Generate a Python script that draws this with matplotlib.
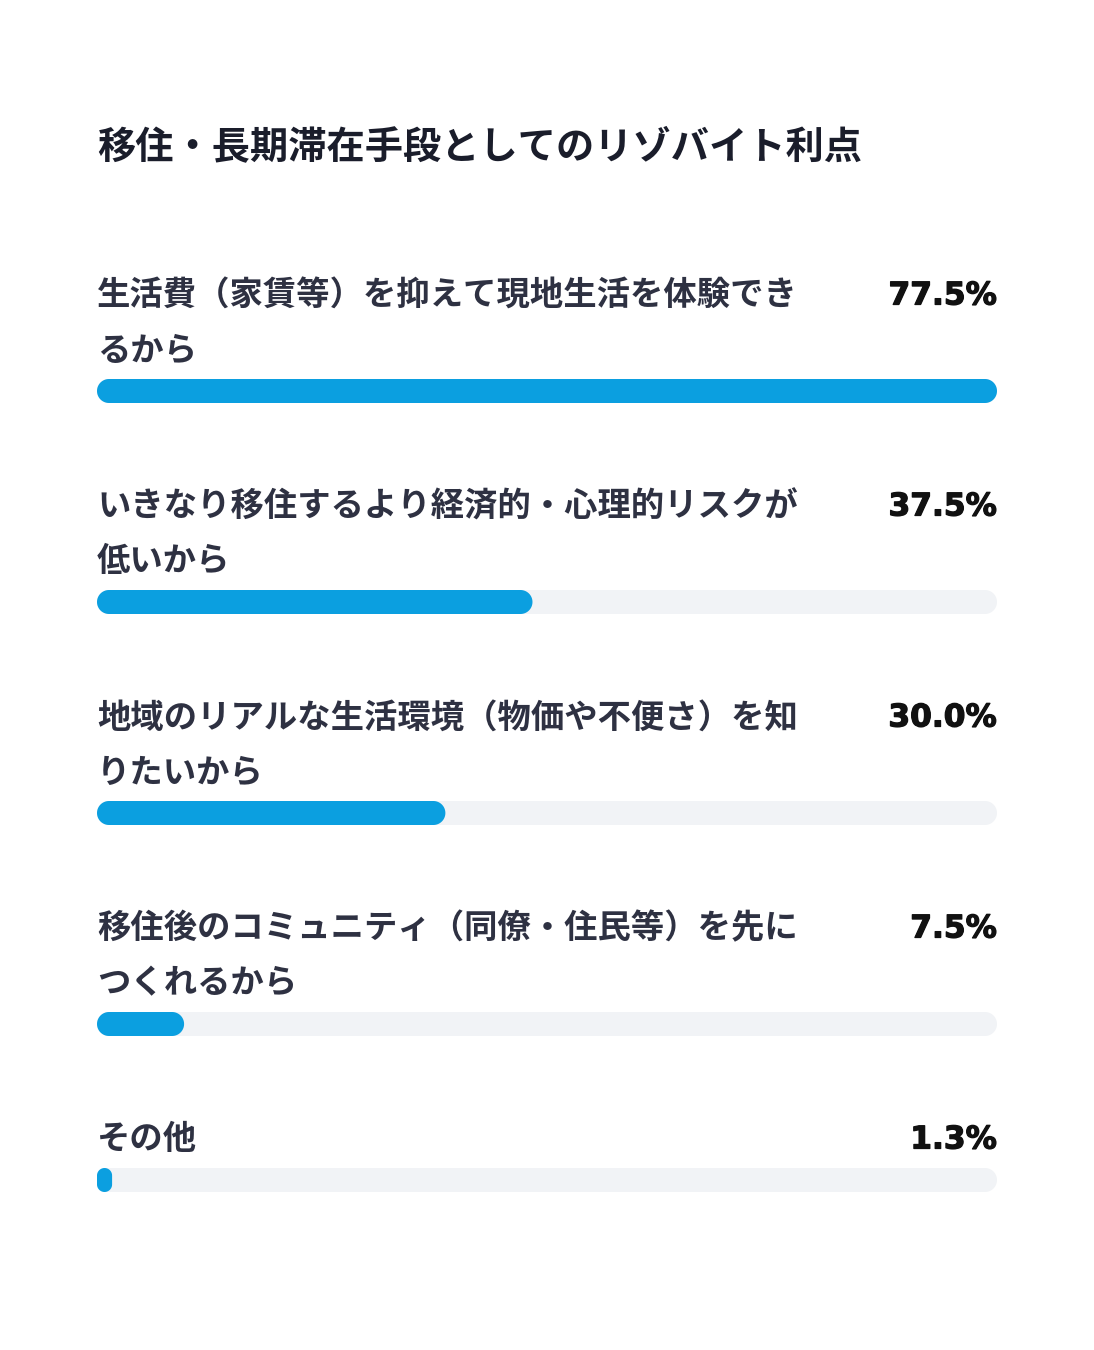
import matplotlib
matplotlib.use("Agg")
import numpy as np
import matplotlib.pyplot as plt
from matplotlib.patches import Polygon
import matplotlib.patheffects as pe

# chart data
title = "移住・長期滞在手段としてのリゾバイト利点"
labels = [
    "生活費（家賃等）を抑えて現地生活を体験できるから",
    "いきなり移住するより経済的・心理的リスクが低いから",
    "地域のリアルな生活環境（物価や不便さ）を知りたいから",
    "移住後のコミュニティ（同僚・住民等）を先につくれるから",
    "その他",
]
values = [77.5, 37.5, 30.0, 7.5, 1.3]

W, H = 1094, 1350
BAR_COLOR = "#0b9fe0"
TRACK_COLOR = "#f1f3f6"
LABEL_COLOR = "#2e3142"
VALUE_COLOR = "#111111"

plt.rcParams["font.family"] = ["Noto Sans CJK JP", "DejaVu Sans"]


def wrap(text, n=21):
    return [text[i:i + n] for i in range(0, len(text), n)]


def capsule(x0, x1, yc, h, color):
    # rounded bar outline in pixel coords (y grows downward)
    w = x1 - x0
    r = min(h / 2, w / 2)
    t = np.linspace(0, np.pi / 2, 16)
    pts = []
    for cx, cy, a0 in [(x1 - r, yc + h / 2 - r, 0.0),
                       (x0 + r, yc + h / 2 - r, 0.5 * np.pi),
                       (x0 + r, yc - h / 2 + r, np.pi),
                       (x1 - r, yc - h / 2 + r, 1.5 * np.pi)]:
        a = a0 + t
        pts.extend(zip(cx + r * np.cos(a), cy + r * np.sin(a)))
    return Polygon(pts, closed=True, fc=color, ec="none")


def main():
    fig = plt.figure(figsize=(W / 100, H / 100), dpi=100)
    fig.patch.set_facecolor("white")

    # drawing layer in pixel coords
    tx = fig.add_axes([0, 0, 1, 1])
    tx.set_xlim(0, W)
    tx.set_ylim(H, 0)
    tx.axis("off")

    # value scale: x in percent units across the track
    left, right = 97, 997
    vmax = max(values)
    bx = fig.add_axes([left / W, 0, (right - left) / W, 1])
    bx.set_xlim(0, vmax)
    bx.set_ylim(H, 0)
    bx.axis("off")
    to_px = bx.transData + tx.transData.inverted()

    bar_h = 24

    tx.text(left, 147, title, fontsize=27.5, fontweight="bold",
            color="#1a1d2b", va="center", ha="left")

    row_top = 296
    row_step = 211
    line_step = 55
    for i, (lab, v) in enumerate(zip(labels, values)):
        y0 = row_top + row_step * i
        lines = wrap(lab)
        for k, ln in enumerate(lines):
            tx.text(left, y0 + k * line_step, ln, fontsize=24, fontweight="bold",
                    color=LABEL_COLOR, va="center", ha="left")
        tx.text(right, y0, f"{v:.1f}%", fontsize=22.5, fontweight="bold",
                family="DejaVu Sans", color=VALUE_COLOR, va="center", ha="right",
                path_effects=[pe.withStroke(linewidth=0.9, foreground=VALUE_COLOR)])

        yb = y0 - 3 + line_step * (len(lines) - 1) + 43
        (x0, _), (xt, _), (xv, _) = to_px.transform([(0, yb), (vmax, yb), (v, yb)])
        tx.add_patch(capsule(x0, xt, yb, bar_h, TRACK_COLOR))
        tx.add_patch(capsule(x0, xv, yb, bar_h, BAR_COLOR))

    fig.savefig("out.png", dpi=100, facecolor="white")


if __name__ == "__main__":
    main()
